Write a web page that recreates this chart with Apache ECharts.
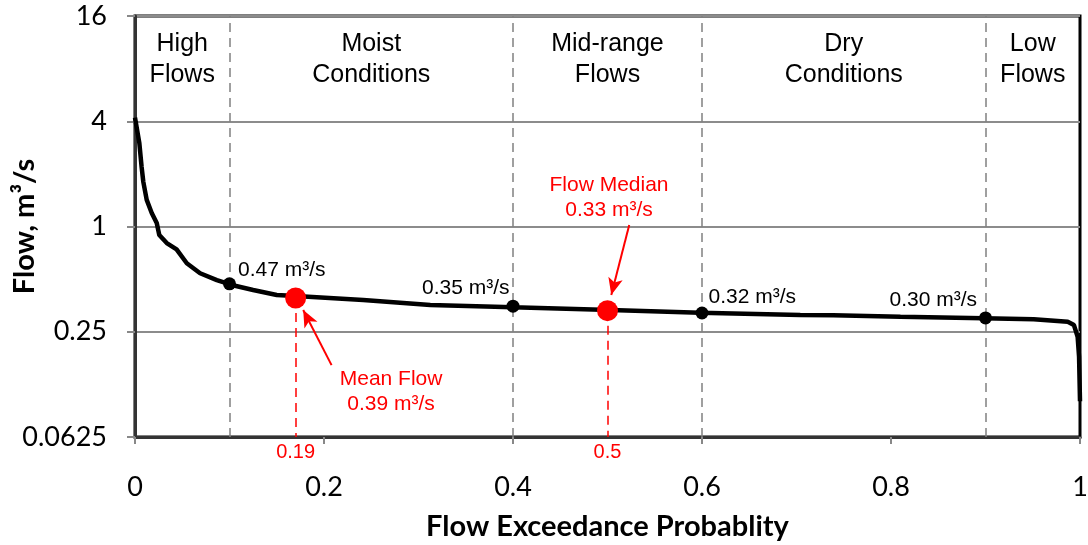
<!DOCTYPE html>
<html>
<head>
<meta charset="utf-8">
<script src="https://cdn.jsdelivr.net/npm/echarts@6/dist/echarts.min.js"></script>
<style>
html,body{margin:0;padding:0;background:#fff;}
#chart{width:1088px;height:545px;}
</style>
</head>
<body>
<div id="chart"></div>
<script>
// Flow duration curve
const flowP = [0, 0.0046, 0.007, 0.0088, 0.0124, 0.0177, 0.023, 0.0257, 0.0336, 0.044, 0.0548, 0.0689, 0.0866, 0.1024, 0.125, 0.15, 0.17, 0.2415, 0.3125, 0.40, 0.503, 0.598, 0.704, 0.739, 0.81, 0.898, 0.951, 0.987, 0.9936, 0.9975, 0.999, 1.0];
const flowQ = [4.2, 3.0, 2.19, 1.80, 1.42, 1.195, 1.047, 0.894, 0.804, 0.74, 0.616, 0.540, 0.494, 0.463, 0.433, 0.406, 0.40, 0.38, 0.356, 0.345, 0.333, 0.321, 0.312, 0.311, 0.305, 0.299, 0.295, 0.285, 0.273, 0.234, 0.18, 0.10];

// Zone boundaries and names
const zoneEdges = [0, 0.1, 0.4, 0.6, 0.9, 1];
const zoneNames = ['High\nFlows', 'Moist\nConditions', 'Mid-range\nFlows', 'Dry\nConditions', 'Low\nFlows'];

// Marked flows at zone boundaries
const markerX = [0.1, 0.4, 0.6, 0.9];
const markerQ = [0.47, 0.35, 0.32, 0.30];

// Mean and median
const statX = [0.17, 0.5];
const statQ = [0.39, 0.33];
const statTick = ['0.19', '0.5'];
const statText = ['Mean Flow\n0.39 m³/s', 'Flow Median\n0.33 m³/s'];
const statTextPos = [[0.271, 0.114], [0.5016, 1.456]];
const arrowFrom = [[0.208, 0.161], [0.523, 1.02]];
const arrowTo = [[0.178, 0.333], [0.504, 0.406]];

// Axis ticks
const yTicks = [0.0625, 0.25, 1, 4, 16];
const xTicks = [0, 0.2, 0.4, 0.6, 0.8, 1];

const RED = '#ff0000';
const ANN_FONT = '"Liberation Sans", Arial, sans-serif';
const AX_FONT = 'Lato, "Noto Sans", sans-serif';

const chart = echarts.init(document.getElementById('chart'), null, {renderer: 'canvas'});

const markerLabelCfg = [
  {position: 'right', offset: [-3, -14]},
  {position: 'left', offset: [8, -18]},
  {position: 'right', offset: [-5, -16]},
  {position: 'left', offset: [3, -18]}
];

const option = {
  animation: false,
  backgroundColor: '#fff',
  grid: {left: 135, right: 8, top: 16, bottom: 108, containLabel: false, outerBoundsMode: 'none',
    show: true, borderColor: '#000', borderWidth: 3, backgroundColor: 'transparent'},
  xAxis: {
    type: 'value', min: xTicks[0], max: xTicks[xTicks.length - 1], interval: 0.2,
    name: 'Flow Exceedance Probablity', nameLocation: 'middle', nameGap: 75, nameMoveOverlap: false,
    nameTextStyle: {fontFamily: AX_FONT, fontWeight: 'bold', fontSize: 29, color: '#000'},
    axisLine: {show: true, lineStyle: {color: '#333', width: 3}},
    axisTick: {show: true, length: 7, lineStyle: {color: '#888', width: 2}},
    axisLabel: {fontFamily: AX_FONT, fontSize: 27, color: '#000', margin: 37,
      formatter: v => String(+v.toFixed(2))},
    splitLine: {show: false}
  },
  yAxis: {
    type: 'log', logBase: 4, min: yTicks[0], max: yTicks[yTicks.length - 1],
    name: 'Flow, m³/s', nameLocation: 'middle', nameGap: 96, nameRotate: 90, nameMoveOverlap: false,
    nameTextStyle: {fontFamily: AX_FONT, fontWeight: 'bold', fontSize: 29, color: '#000'},
    axisLine: {show: true, lineStyle: {color: '#333', width: 3}},
    axisTick: {show: true, length: 8, lineStyle: {color: '#888', width: 2}},
    axisLabel: {fontFamily: AX_FONT, fontSize: 27, color: '#000', margin: 28,
      formatter: v => String(+(+v).toPrecision(6))},
    splitLine: {show: true, lineStyle: {color: '#8c8c8c', width: 2}},
    minorTick: {show: false}
  },
  series: [
    {
      type: 'line', name: 'flow', z: 5,
      data: flowP.map((p, i) => [p, flowQ[i]]),
      showSymbol: false, symbol: 'none',
      lineStyle: {color: '#000', width: 4.5},
      markArea: {
        silent: true,
        itemStyle: {color: 'rgba(0,0,0,0)'},
        label: {show: true, position: 'insideTop', distance: 13, fontFamily: ANN_FONT, fontSize: 25, lineHeight: 31, color: '#000', align: 'center'},
        data: zoneNames.map((n, i) => [{xAxis: zoneEdges[i], name: n}, {xAxis: zoneEdges[i + 1]}])
      },
      markLine: {
        silent: true, symbol: 'none',
        lineStyle: {color: '#808080', width: 1.5, type: [9, 6]},
        label: {show: false},
        data: zoneEdges.slice(1, -1).map(x => ({xAxis: x}))
      }
    },
    {
      type: 'scatter', name: 'markers', z: 6,
      symbolSize: 13,
      itemStyle: {color: '#000', opacity: 1},
      data: markerX.map((x, i) => ({
        value: [x, markerQ[i]],
        label: {show: true, position: markerLabelCfg[i].position, offset: markerLabelCfg[i].offset,
          formatter: markerQ[i].toFixed(2) + ' m³/s', fontFamily: ANN_FONT, fontSize: 21, color: '#000', opacity: 1}
      }))
    },
    {
      type: 'scatter', name: 'stats', z: 7,
      symbolSize: 21,
      itemStyle: {color: RED, opacity: 1},
      data: statX.map((x, i) => [x, statQ[i]]),
      markLine: {
        silent: true, symbol: 'none',
        lineStyle: {color: RED, width: 1.5, type: [9, 6], opacity: 1},
        label: {show: true, position: 'end', distance: 5, fontFamily: ANN_FONT, fontSize: 20, color: RED},
        data: statX.map((x, i) => [
          {coord: [x, statQ[i]]},
          {coord: [x, yTicks[0]], label: {formatter: statTick[i]}}
        ])
      }
    },
    {
      type: 'scatter', name: 'statText', z: 8,
      symbolSize: 1,
      itemStyle: {color: 'rgba(0,0,0,0)', opacity: 1},
      label: {show: true, position: 'inside', fontFamily: ANN_FONT, fontSize: 21, lineHeight: 25, color: RED, align: 'center', opacity: 1,
        formatter: p => statText[p.dataIndex]},
      data: statTextPos.map(p => [p[0], p[1]]),
      markLine: {
        silent: true, symbol: ['none', 'arrow'], symbolSize: [11, 17],
        lineStyle: {color: RED, width: 2, type: 'solid', opacity: 1},
        label: {show: false},
        data: arrowFrom.map((f, i) => [{coord: f}, {coord: arrowTo[i]}])
      }
    }
  ]
};
chart.setOption(option);
</script>
</body>
</html>
